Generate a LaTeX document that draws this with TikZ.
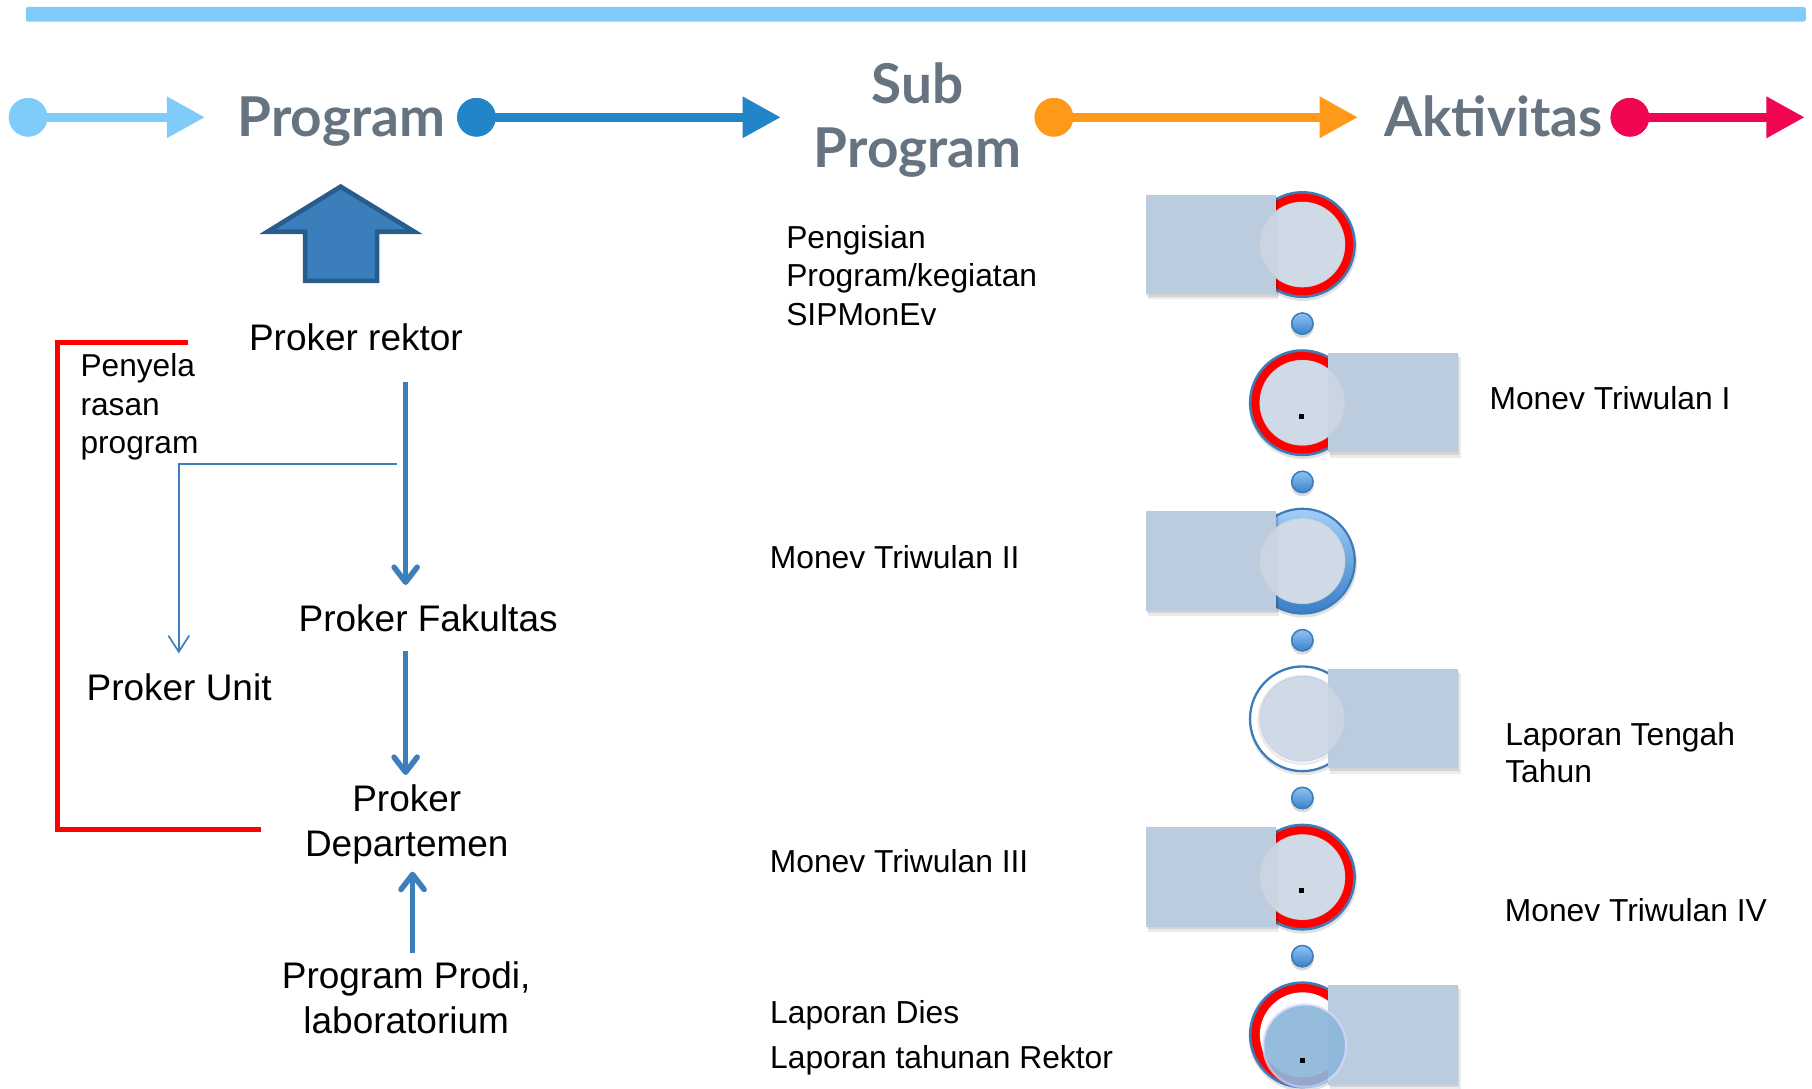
\documentclass[tikz,border=0pt]{standalone}
\usepackage{fontspec}
\setmainfont{Liberation Sans}
\newfontfamily\latofont{Lato}
\usetikzlibrary{arrows.meta}

\definecolor{barblue}{RGB}{127,204,250}
\definecolor{hdblue}{RGB}{33,133,199}
\definecolor{hdorange}{RGB}{255,153,26}
\definecolor{hdpink}{RGB}{240,5,80}
\definecolor{hdgray}{RGB}{102,115,128}
\definecolor{stblue}{RGB}{61,127,189}
\definecolor{arrowfill}{RGB}{58,126,187}
\definecolor{arrowedge}{RGB}{40,92,138}
\definecolor{rectcol}{RGB}{188,204,223}
\definecolor{innercol}{RGB}{203,214,228}
\definecolor{ringedge}{RGB}{60,125,185}
\definecolor{ringred}{RGB}{255,0,0}
\definecolor{dotlight}{RGB}{145,196,246}
\definecolor{dotdark}{RGB}{58,128,200}
\definecolor{innerblue}{RGB}{141,183,219}

\newcommand{\tlrect}[3]{%
  \fill[black,opacity=0.08] (#1+1.5,#3-43+3) rectangle (#2+3,#3+43+4.5);
  \fill[black,opacity=0.10] (#1+0.5,#3-43+1.5) rectangle (#2+1.5,#3+43+2.2);
  \fill[rectcol] (#1,#3-43) rectangle (#2,#3+43);}
\newcommand{\tlinner}[1]{%
  \fill[innercol,fill opacity=0.9] (1127,#1) circle (36.8);
  \draw[color=black!20,opacity=0.5,line width=0.8bp] (1127,#1) circle (36.8);}
\newcommand{\tlredring}[1]{%
  \fill[black,opacity=0.12] (1127.5,#1+2) circle (46.8);
  \fill[ringedge] (1127,#1) circle (46.3);
  \fill[ringred] (1127,#1) circle (44);
  \fill[white] (1127,#1) circle (36.8);}
\newcommand{\tldot}[1]{%
  \fill[black,opacity=0.15] (1127,#1+2.5) circle (10);
  \shade[top color=dotlight,bottom color=dotdark] (1127,#1) circle (9.8);
  \draw[ringedge,line width=1.3bp] (1127,#1) circle (9.2);}

\begin{document}
\begin{tikzpicture}[x=1bp,y=-1bp,
  hdtext/.style={font=\fontsize{47.5bp}{55.7bp}\latofont\bfseries, text=hdgray, inner sep=0, anchor=base},
  bodytext/.style={font=\fontsize{32bp}{39bp}\selectfont, inner sep=0, anchor=base},
  smalltext/.style={font=\fontsize{27.5bp}{33.2bp}\selectfont, inner sep=0, anchor=base west},
  hdot/.style={circle, inner sep=0, minimum size=33.4bp},
  hline/.style={line width=7.3bp, -{Triangle[length=33bp,width=34bp]}},
  thickarrow/.style={draw=stblue, line width=4.8bp, -{Straight Barb[length=13bp,width=20bp,round]}},
  thinarrow/.style={draw=stblue, line width=1.5bp, -{Straight Barb[length=14bp,width=18bp]}},
  redline/.style={draw=ringred, line width=4.5bp}]
\useasboundingbox (0,0) rectangle (1568,941.5);

% top bar
\fill[barblue,rounded corners=2bp] (22.3,6) rectangle (1562.6,18.8);

% header row
\coordinate (tip1) at (177.4,101.5);
\coordinate (tip2) at (675.6,101.5);
\coordinate (tip3) at (1175,101.5);
\coordinate (tip4) at (1561.6,101.5);
\node[hdot, fill=barblue] (d1) at (24.3,101.5) {};
\node[hdot, fill=hdblue] (d2) at (412.3,101.5) {};
\node[hdot, fill=hdorange] (d3) at (912,101.5) {};
\node[hdot, fill=hdpink] (d4) at (1410.4,101.5) {};
\draw[hline, barblue] (d1.center) -- (tip1);
\draw[hline, hdblue] (d2.center) -- (tip2);
\draw[hline, hdorange] (d3.center) -- (tip3);
\draw[hline, hdpink] (d4.center) -- (tip4);
\node[hdot, fill=barblue] at (d1) {};
\node[hdot, fill=hdblue] at (d2) {};
\node[hdot, fill=hdorange] at (d3) {};
\node[hdot, fill=hdpink] at (d4) {};
\node[hdtext] (hprog) at (295.5,117.7) {Program};
\node[hdtext] (hsub) at (794,89.4) {\begin{tabular}[t]{@{}c@{}}Sub\\Program\end{tabular}};
\node[hdtext] (hakt) at (1292.3,117.7) {Aktivitas};

% big up arrow
\filldraw[fill=arrowfill, draw=arrowedge, line width=4bp, line join=miter]
  (294.8,161.5) -- (358.5,200.5) -- (326.3,200.5) -- (326.3,243) -- (264,243)
  -- (264,200.5) -- (231.5,200.5) -- cycle;

% left texts
\node[bodytext] (rektor) at (308,302.9) {Proker rektor};
\node[bodytext] (fak) at (370.5,546.6) {Proker Fakultas};
\node[bodytext] (unit) at (155,605.8) {Proker Unit};
\node[bodytext] (dept) at (352,702.4) {\begin{tabular}[t]{@{}c@{}}Proker\\Departemen\end{tabular}};
\node[bodytext] (prodi) at (351.5,855.3) {\begin{tabular}[t]{@{}c@{}}Program Prodi,\\laboratorium\end{tabular}};
\node[smalltext, font=\fontsize{27.4bp}{33.2bp}\selectfont] (penyela) at (69.5,326) {\begin{tabular}[t]{@{}l@{}}Penyela\\rasan\\program\end{tabular}};

% red bracket
\draw[redline, line cap=rect] (160.6,296.5) -- (49.7,296.5) -- (49.7,718) -- (223.5,718);

% left arrows
\draw[thickarrow] (351,330.3) -- (351,506.2);
\draw[thickarrow] (351,563.4) -- (351,670.6);
\draw[thickarrow] (357,825) -- (357,754.3);
\coordinate (branch) at (343.4,401.5);
\draw[thinarrow] (branch) -| (154.7,565.4);

% timeline
% 1 red, rect left
\tlredring{211.6}
\tlrect{991.7}{1104}{211.6}
\tlinner{211.6}
\tldot{280}
% 2 red, rect right
\tlredring{348.5}
\tlrect{1149.5}{1261.4}{348.5}
\tlinner{348.5}
\fill[black] (1124.2,358.4) rectangle (1128.6,362.8);
\tldot{417}
% 3 blue, rect left
\fill[black,opacity=0.12] (1127.5,487.6) circle (46.8);
\fill[ringedge] (1127,485.6) circle (46.3);
\shade[top color=dotlight!85!white, bottom color=dotdark] (1127,485.6) circle (44.3);
\fill[white] (1127,485.6) circle (36.8);
\tlrect{991.7}{1104}{485.6}
\tlinner{485.6}
\tldot{554}
% 4 white, rect right
\fill[black,opacity=0.10] (1127.5,624) circle (46.8);
\filldraw[fill=white, draw=ringedge, line width=2bp] (1127,622) circle (45.3);
\draw[black!8, line width=2bp] (1127,623) circle (38);
\tlrect{1149.5}{1261.4}{622}
\fill[innercol,fill opacity=0.9] (1127,622) circle (36.8);
\draw[color=ringedge!40!white,opacity=0.6,line width=0.8bp] (1127,622) circle (36.8);
\tldot{690.5}
% 5 red, rect left
\tlredring{759}
\tlrect{991.7}{1104}{759}
\tlinner{759}
\fill[black] (1124.2,768.6) rectangle (1128.6,773);
\tldot{827.4}
% 6 red, rect right, blue inner
\tlredring{895.5}
\tlrect{1149.5}{1261.4}{895.5}
\fill[innerblue, fill opacity=0.92] (1129,905) circle (35.5);
\draw[white!85!blue, line width=2bp, opacity=0.7] (1129,905) circle (35.8);
\fill[black] (1125.1,915.7) rectangle (1129.5,920.1);

% right texts
\node[smalltext] (peng) at (680.2,214.9) {\begin{tabular}[t]{@{}l@{}}Pengisian\\Program/kegiatan\\SIPMonEv\end{tabular}};
\node[smalltext] (m1) at (1288.8,354) {Monev Triwulan I};
\node[smalltext] (m2) at (666,492) {Monev Triwulan II};
\node[smalltext, font=\fontsize{27.5bp}{32.6bp}\selectfont] (lth) at (1302.4,644.7) {\begin{tabular}[t]{@{}l@{}}Laporan Tengah\\Tahun\end{tabular}};
\node[smalltext] (m3) at (666,755) {Monev Triwulan III};
\node[smalltext] (m4) at (1302,797) {Monev Triwulan IV};
\node[smalltext, font=\fontsize{27.5bp}{38.9bp}\selectfont] (dies) at (666.3,885.6) {\begin{tabular}[t]{@{}l@{}}Laporan Dies\\Laporan tahunan Rektor\end{tabular}};
\end{tikzpicture}
\end{document}
